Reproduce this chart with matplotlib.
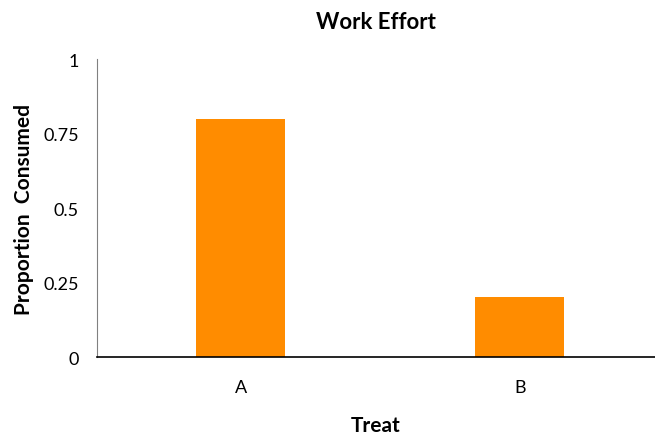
import matplotlib
matplotlib.use('Agg')
import matplotlib.pyplot as plt

# chart data
categories = ['A', 'B']
proportion = [0.80, 0.20]
yticks = [0, 0.25, 0.5, 0.75, 1]
ytick_labels = ['0', '0.25', '0.5', '0.75', '1']

plt.rcParams['font.family'] = ['Lato', 'DejaVu Sans']

fig = plt.figure(figsize=(6.55, 4.35), dpi=100)
ax = fig.add_axes([0.148, 0.177, 0.852, 0.685])

x = list(range(len(categories)))
ax.bar(x, proportion, width=0.317, color='#ff8c00')

ax.set_xlim(-0.515, 1.485)
ax.set_ylim(0, 1)
ax.set_xticks(x)
ax.set_xticklabels(categories)
ax.set_yticks(yticks)
ax.set_yticklabels(ytick_labels)
ax.tick_params(axis='both', length=0, labelsize=13)
ax.tick_params(axis='y', pad=13)
ax.tick_params(axis='x', pad=16)

for s in ['top', 'right']:
    ax.spines[s].set_visible(False)
ax.spines['left'].set_color('#808080')
ax.spines['bottom'].set_color('black')
ax.spines['bottom'].set_linewidth(1.2)

ax.set_title('Work Effort', fontsize=16, fontweight='bold', pad=22)
ax.set_xlabel('Treat', fontsize=15, fontweight='bold', labelpad=14)
ax.set_ylabel('Proportion  Consumed', fontsize=15, fontweight='bold', labelpad=7)

fig.savefig('out.png', dpi=100)
